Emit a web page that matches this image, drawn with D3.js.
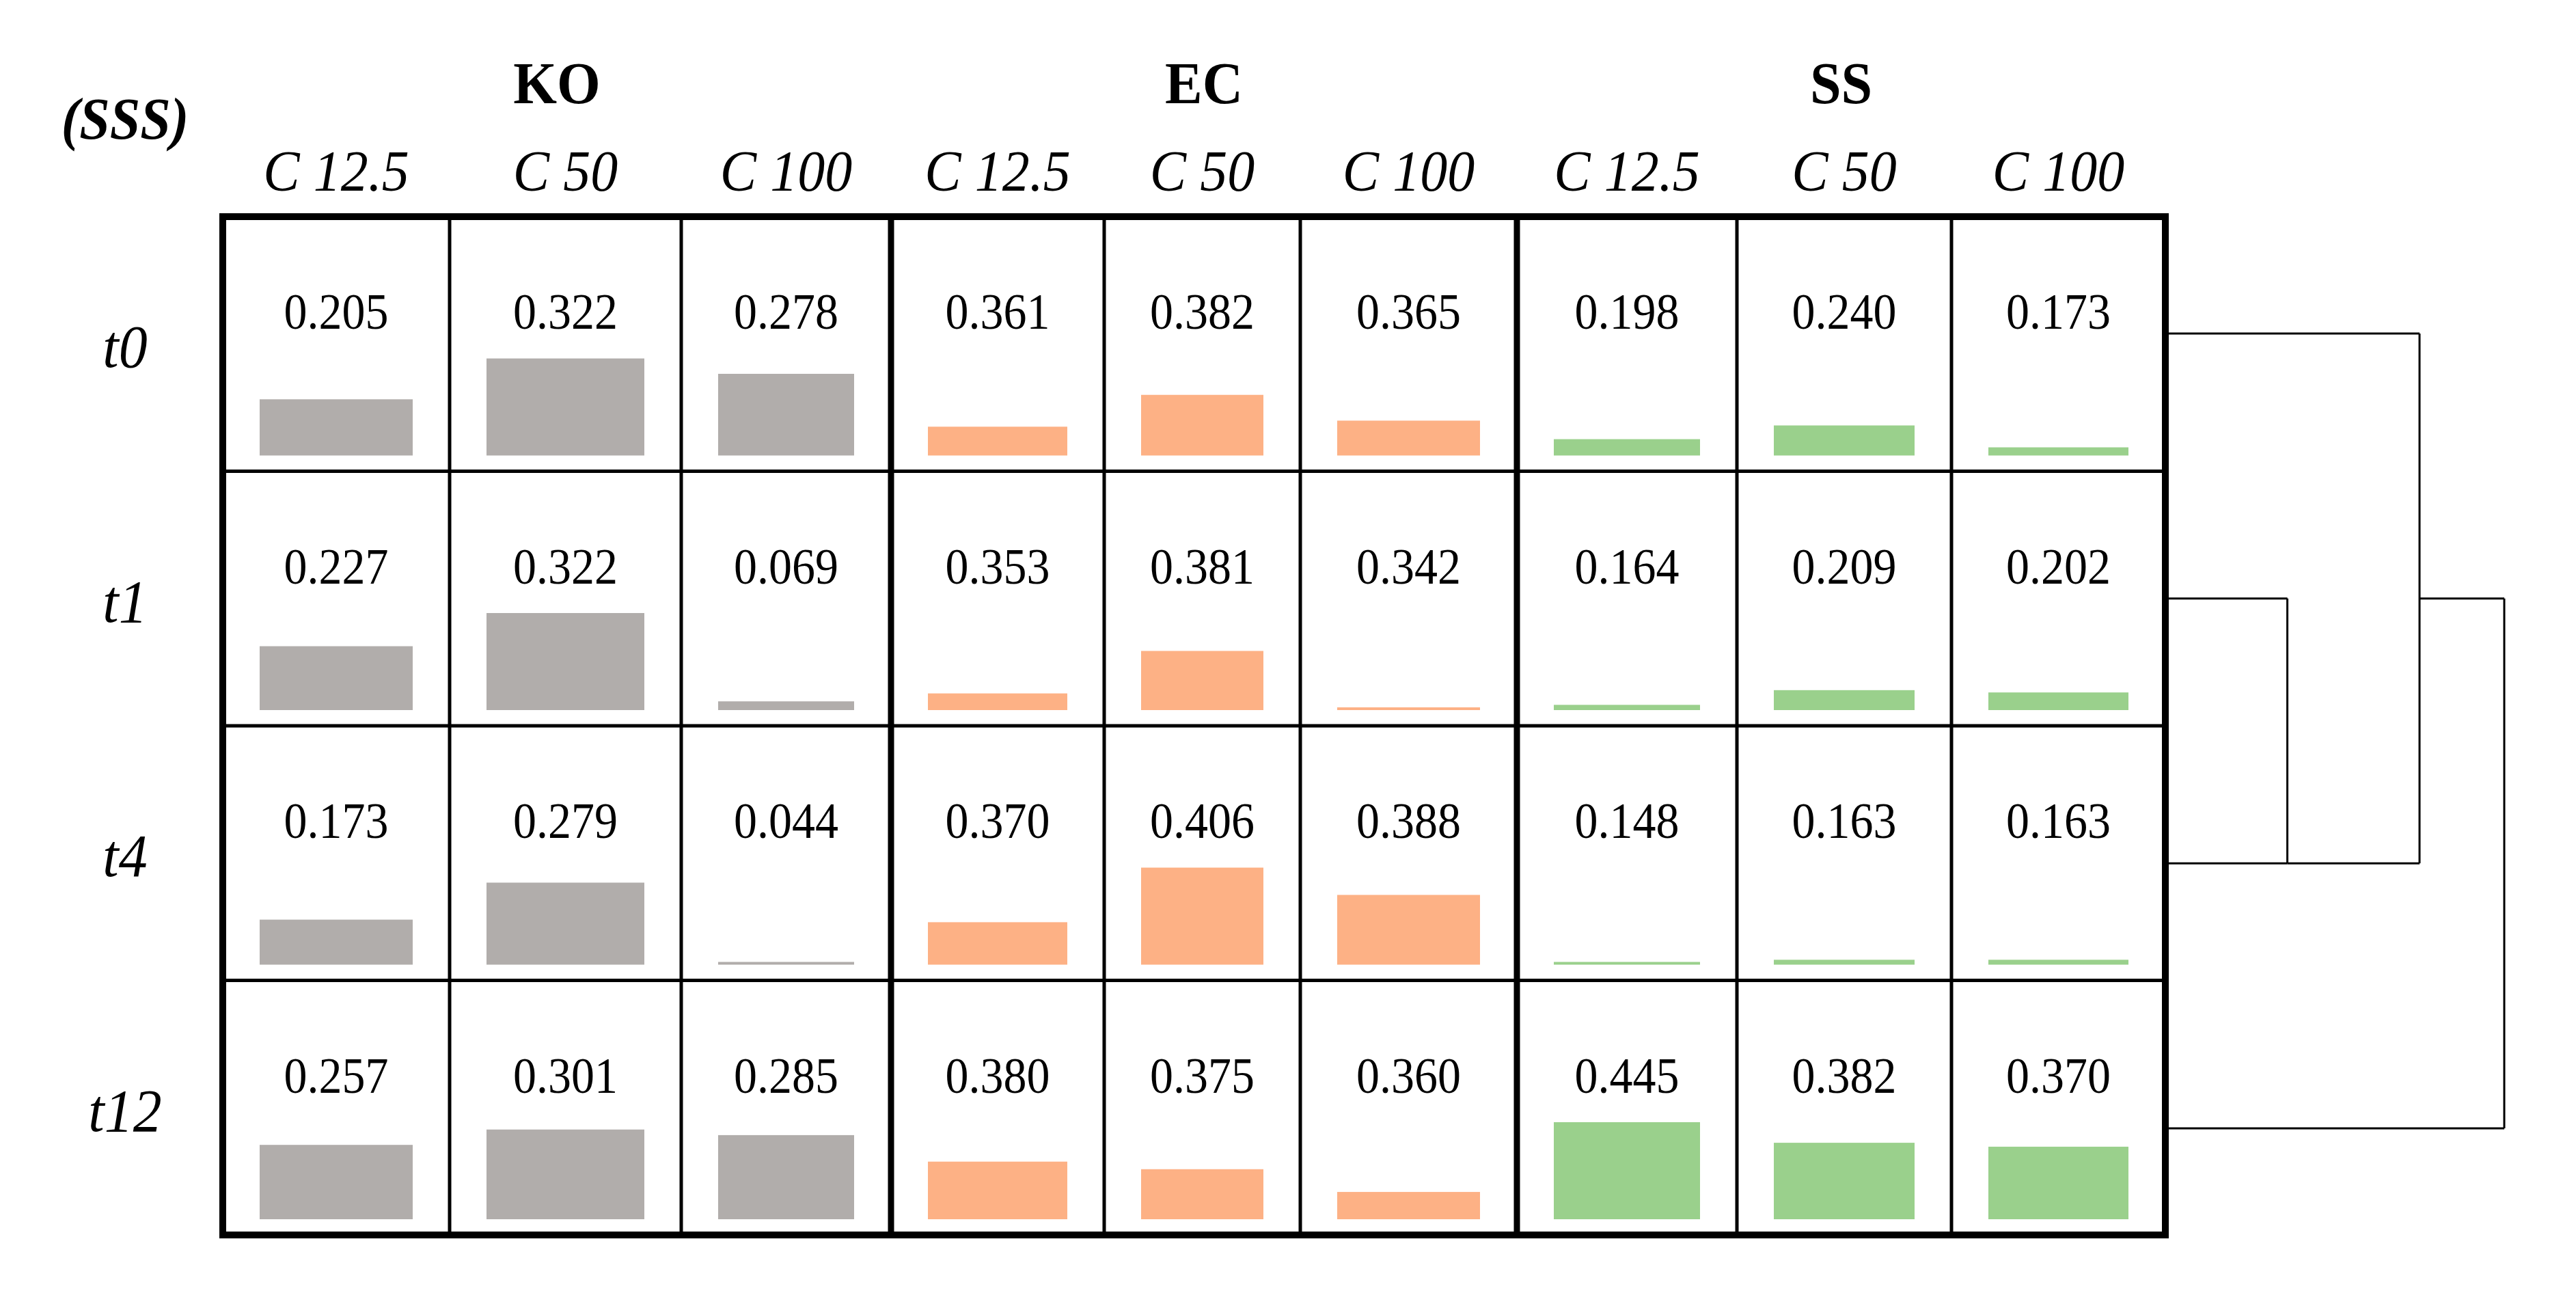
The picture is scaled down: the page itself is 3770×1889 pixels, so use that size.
<!DOCTYPE html>
<html>
<head>
<meta charset="utf-8">
<script src="https://cdn.jsdelivr.net/npm/d3@7"></script>
<style>
  html, body { margin: 0; padding: 0; background: #ffffff; }
  svg { display: block; }
</style>
</head>
<body>
<script>
// ---------------- DATA ----------------
const groups = ["KO", "EC", "SS"];
const concentrations = ["C 12.5", "C 50", "C 100"];
const timepoints = ["t0", "t1", "t4", "t12"];
const cornerLabel = "(SSS)";

// rows = timepoints, columns = concentrations
const KO = [
  [0.205, 0.322, 0.278],
  [0.227, 0.322, 0.069],
  [0.173, 0.279, 0.044],
  [0.257, 0.301, 0.285]
];
const EC = [
  [0.361, 0.382, 0.365],
  [0.353, 0.381, 0.342],
  [0.370, 0.406, 0.388],
  [0.380, 0.375, 0.360]
];
const SS = [
  [0.198, 0.240, 0.173],
  [0.164, 0.209, 0.202],
  [0.148, 0.163, 0.163],
  [0.445, 0.382, 0.370]
];

// dendrogram of timepoints (merge heights, relative distance)
const dendroMerges = [
  { left: "t1", right: "t4", height: 0.36, joinAt: "t4" },
  { left: "t0", right: 0, height: 0.75, joinAt: "t1" },
  { left: 1, right: "t12", height: 1.0, joinAt: "t12" }
];

// ---------------- LAYOUT ----------------
const W = 3770, H = 1889;
const groupValues = { KO: KO, EC: EC, SS: SS };
const groupColors = { KO: "#b1adab", EC: "#fdb185", SS: "#9ad08c" };
const FONT = "'Liberation Serif', 'Times New Roman', Times, serif";

const colEdges = [326, 658, 997, 1304, 1616, 1903, 2220, 2542, 2856, 3169];
const xCol = d3.scaleLinear().domain(d3.range(colEdges.length)).range(colEdges);
const yRow = d3.scaleLinear().domain([0, timepoints.length]).range([317, 1807]);

const svg = d3.select("body").append("svg")
  .attr("width", W).attr("height", H)
  .attr("viewBox", `0 0 ${W} ${H}`);

svg.append("rect").attr("width", W).attr("height", H).attr("fill", "#ffffff");

// flatten cells
const cells = [];
groups.forEach((g, gi) => {
  const vals = groupValues[g];
  const flat = vals.flat();
  const hScale = d3.scaleLinear().domain([d3.min(flat), d3.max(flat)]).range([0, 142]);
  timepoints.forEach((t, ri) => {
    concentrations.forEach((c, ci) => {
      const col = gi * concentrations.length + ci;
      cells.push({ group: g, t, c, ri, col, v: vals[ri][ci], h: Math.max(4, hScale(vals[ri][ci])) });
    });
  });
});

// bars
const barInset = 54;
svg.append("g").selectAll("rect").data(cells).join("rect")
  .attr("x", d => xCol(d.col) + barInset)
  .attr("width", d => xCol(d.col + 1) - xCol(d.col) - 2 * barInset)
  .attr("y", d => yRow(d.ri + 1) - 23 - d.h)
  .attr("height", d => d.h)
  .attr("fill", d => groupColors[d.group]);

// helper: text slightly stretched vertically like the reference
function place(sel, fx, fy, sy) {
  return sel.attr("transform", (d, i) => `translate(${fx(d, i)},${fy(d, i)}) scale(1,${sy})`);
}

// value labels
place(
  svg.append("g").selectAll("text").data(cells).join("text"),
  d => (xCol(d.col) + xCol(d.col + 1)) / 2,
  d => yRow(d.ri) + 164,
  1.08
)
  .attr("text-anchor", "middle")
  .attr("font-family", FONT)
  .attr("font-size", 68)
  .attr("fill", "#000")
  .text(d => d3.format(".3f")(d.v));

// group headers
place(
  svg.append("g").selectAll("text").data(groups).join("text"),
  (g, gi) => (xCol(gi * 3) + xCol(gi * 3 + 3)) / 2,
  () => 151,
  1.07
)
  .attr("text-anchor", "middle")
  .attr("font-family", FONT)
  .attr("font-weight", "bold")
  .attr("font-size", 82)
  .text(g => g);

// concentration headers
const colHeads = [];
groups.forEach((g, gi) => concentrations.forEach((c, ci) => colHeads.push({ c, col: gi * 3 + ci })));
place(
  svg.append("g").selectAll("text").data(colHeads).join("text"),
  d => (xCol(d.col) + xCol(d.col + 1)) / 2,
  () => 279,
  1.07
)
  .attr("text-anchor", "middle")
  .attr("font-family", FONT)
  .attr("font-style", "italic")
  .attr("font-size", 80)
  .text(d => d.c);

// corner label
svg.append("text")
  .attr("transform", "translate(183,203) scale(1,1.09)")
  .attr("text-anchor", "middle")
  .attr("font-family", FONT)
  .attr("font-style", "italic")
  .attr("font-weight", "bold")
  .attr("font-size", 80)
  .text(cornerLabel);

// row labels
place(
  svg.append("g").selectAll("text").data(timepoints).join("text"),
  () => 183,
  (t, i) => (yRow(i) + yRow(i + 1)) / 2 + 34,
  1.05
)
  .attr("text-anchor", "middle")
  .attr("font-family", FONT)
  .attr("font-style", "italic")
  .attr("font-size", 84)
  .text(t => t);

// grid lines
const gridG = svg.append("g").attr("stroke", "#000");
d3.range(1, colEdges.length - 1).forEach(i => {
  gridG.append("line")
    .attr("x1", xCol(i)).attr("x2", xCol(i))
    .attr("y1", yRow(0)).attr("y2", yRow(timepoints.length))
    .attr("stroke-width", i % 3 === 0 ? 9 : 5);
});
d3.range(1, timepoints.length).forEach(i => {
  gridG.append("line")
    .attr("x1", xCol(0)).attr("x2", xCol(colEdges.length - 1))
    .attr("y1", yRow(i)).attr("y2", yRow(i))
    .attr("stroke-width", 5);
});
gridG.append("rect")
  .attr("x", xCol(0)).attr("y", yRow(0))
  .attr("width", xCol(colEdges.length - 1) - xCol(0))
  .attr("height", yRow(timepoints.length) - yRow(0))
  .attr("fill", "none")
  .attr("stroke-width", 10);

// dendrogram
const tableRight = xCol(colEdges.length - 1);
const dx = d3.scaleLinear().domain([0, 1]).range([tableRight, 3665]);
const dy = d3.scalePoint().domain(timepoints).range([488, 1651]);
const dG = svg.append("g").attr("stroke", "#000").attr("stroke-width", 3).attr("fill", "none");
function resolve(child) {
  if (typeof child === "string") return { x: tableRight + 5, y: dy(child) };
  const m = dendroMerges[child];
  return { x: dx(m.height), y: dy(m.joinAt) };
}
dendroMerges.forEach(m => {
  const a = resolve(m.left), b = resolve(m.right);
  const xm = dx(m.height);
  [a, b].forEach(ch => {
    dG.append("line").attr("x1", ch.x).attr("x2", xm).attr("y1", ch.y).attr("y2", ch.y);
  });
  dG.append("line").attr("x1", xm).attr("x2", xm)
    .attr("y1", Math.min(a.y, b.y)).attr("y2", Math.max(a.y, b.y));
});
</script>
</body>
</html>
